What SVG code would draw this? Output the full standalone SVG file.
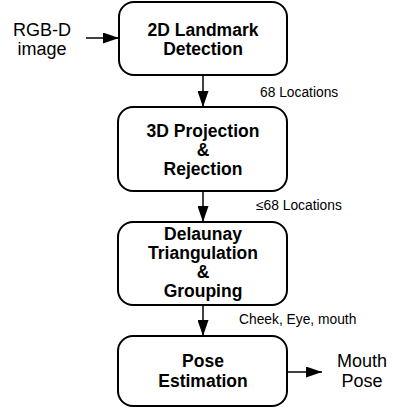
<svg xmlns="http://www.w3.org/2000/svg" width="393" height="409" viewBox="0 0 393 409">
<defs>
<marker id="arr" viewBox="0 0 16 11" refX="16" refY="5.5" markerWidth="16" markerHeight="11" markerUnits="userSpaceOnUse" orient="auto">
<path d="M0,0 L16,5.5 L0,11 z" fill="#000"/>
</marker>
<style>
.box{fill:#fff;stroke:#000;stroke-width:2}
.t{font-family:"Liberation Sans",Arial,sans-serif;font-weight:bold;font-size:17.5px;text-anchor:middle;fill:#000}
.p{font-family:"Liberation Sans",Arial,sans-serif;font-size:18px;text-anchor:middle;fill:#000}
.l{font-family:"Liberation Sans",Arial,sans-serif;font-size:13.8px;fill:#000}
.c{stroke:#000;stroke-width:1.5;fill:none;marker-end:url(#arr)}
</style>
</defs>
<rect width="393" height="409" fill="#fff"/>
<g id="connectors">
<line class="c" x1="86" y1="38" x2="119" y2="38"/>
<line class="c" x1="203" y1="75" x2="203" y2="107"/>
<line class="c" x1="203" y1="191" x2="203" y2="222"/>
<line class="c" x1="203" y1="305" x2="203" y2="336"/>
<line class="c" x1="288" y1="372" x2="322" y2="372"/>
</g>
<g id="input">
<text class="p" x="42" y="36">RGB-D</text>
<text class="p" x="42" y="55">image</text>
</g>
<g id="n1">
<rect class="box" x="119" y="2" width="168" height="73" rx="15"/>
<text class="t" x="203" y="35.5">2D Landmark</text>
<text class="t" x="203" y="54.5">Detection</text>
</g>
<g id="n2">
<rect class="box" x="118" y="107" width="169" height="84" rx="15"/>
<text class="t" x="203" y="137">3D Projection</text>
<text class="t" x="203" y="156">&amp;</text>
<text class="t" x="203" y="175">Rejection</text>
</g>
<g id="n3">
<rect class="box" x="118" y="222" width="169" height="83" rx="15"/>
<text class="t" x="203" y="240">Delaunay</text>
<text class="t" x="203" y="259">Triangulation</text>
<text class="t" x="203" y="278">&amp;</text>
<text class="t" x="203" y="297">Grouping</text>
</g>
<g id="n4">
<rect class="box" x="118" y="336" width="169" height="70" rx="15"/>
<text class="t" x="203" y="367">Pose</text>
<text class="t" x="203" y="387">Estimation</text>
</g>
<g id="output">
<text class="p" x="362" y="367">Mouth</text>
<text class="p" x="362" y="387">Pose</text>
</g>
<g id="labels">
<text class="l" x="260" y="97">68 Locations</text>
<text class="l" x="256" y="210">≤68 Locations</text>
<text class="l" x="239" y="324">Cheek, Eye, mouth</text>
</g>
</svg>
